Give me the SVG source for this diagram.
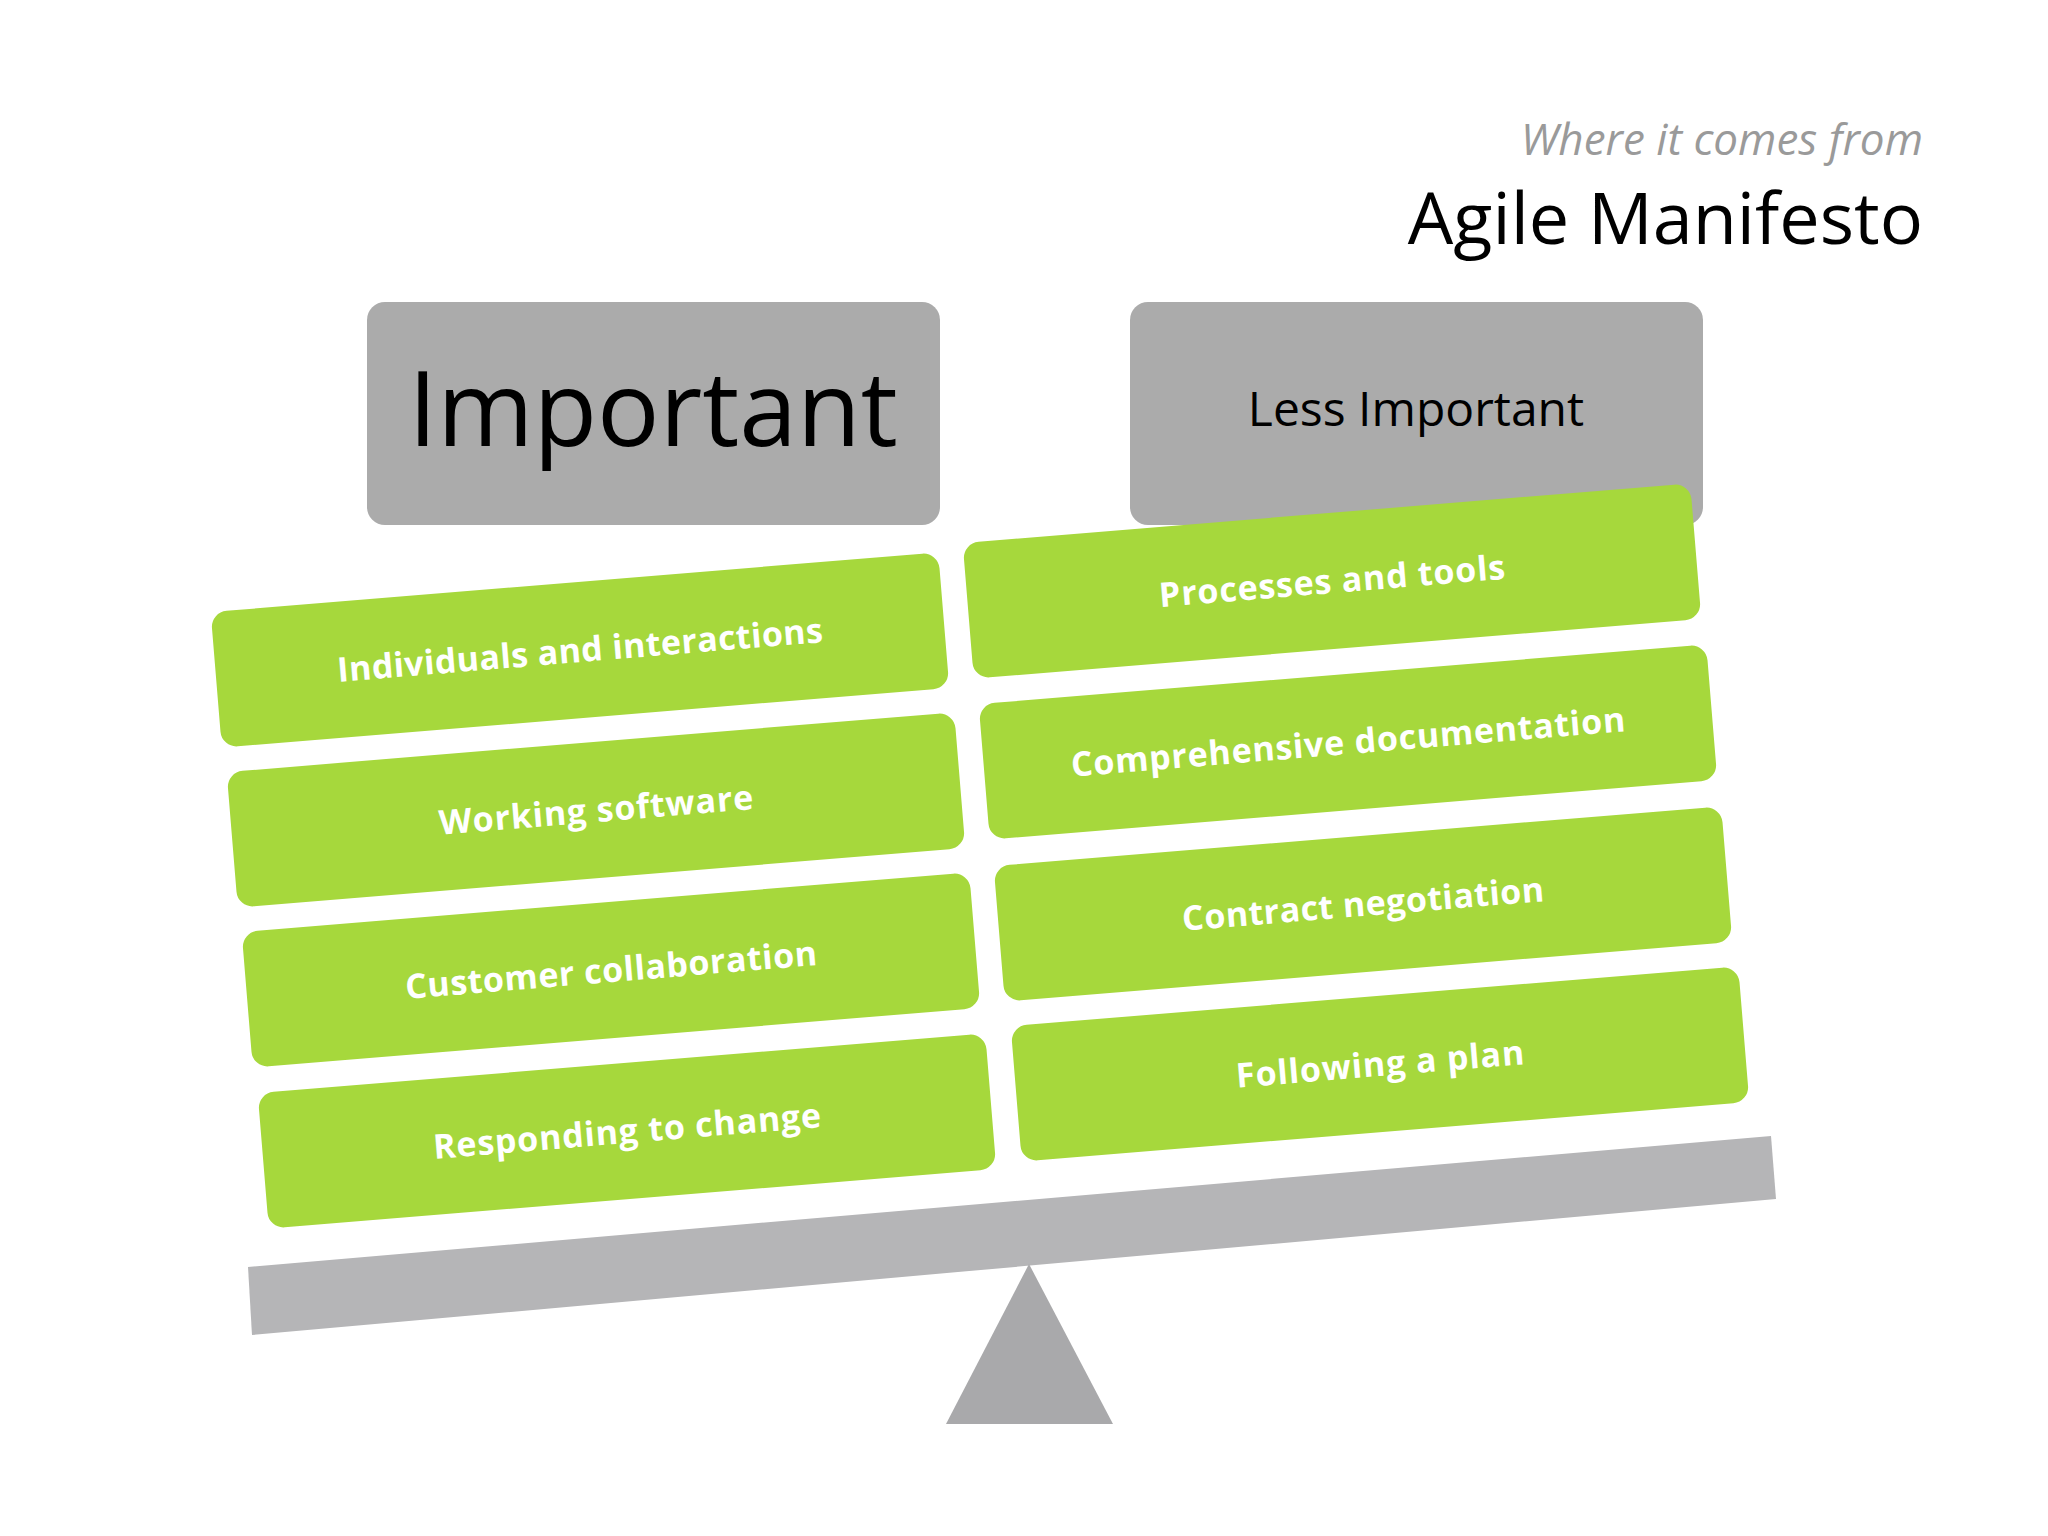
<svg xmlns="http://www.w3.org/2000/svg" width="2048" height="1536" viewBox="0 0 2048 1536">
<style>
.g{fill:#a6d83c}
.gt{fill:#fff;font-family:"Open Sans","DejaVu Sans",sans-serif;font-weight:700;font-size:34px;text-anchor:middle}
.hd{fill:#ababab}
.ht{fill:#000;font-family:"Open Sans","DejaVu Sans",sans-serif;text-anchor:middle}
</style>
<rect width="2048" height="1536" fill="#fff"/>
<text x="1923" y="155" font-family="Open Sans, DejaVu Sans, sans-serif" font-style="italic" font-size="44" fill="#9a9a9a" text-anchor="end">Where it comes from</text>
<text x="1923" y="244" font-family="Open Sans, DejaVu Sans, sans-serif" font-size="72" fill="#000" text-anchor="end">Agile Manifesto</text>
<g id="important"><rect class="hd" x="367" y="302" width="573" height="223" rx="18"/><text class="ht" x="653" y="446" font-size="104">Important</text></g>
<g id="less-important"><rect class="hd" x="1130" y="302" width="573" height="223" rx="18"/><text class="ht" x="1416" y="426" font-size="48">Less Important</text></g>
<g id="beam"><polygon points="248,1267 1771,1136 1776,1199 252,1335" fill="#b5b5b7"/></g>
<g id="fulcrum"><polygon points="1029,1264 946,1424 1113,1424" fill="#a9a9ab"/></g>
<g id="l1" transform="translate(580,650) rotate(-4.7)"><rect class="g" x="-365" y="-68" width="730" height="136" rx="16"/><text class="gt" x="0" y="12" textLength="487">Individuals and interactions</text></g>
<g id="l2" transform="translate(596,810) rotate(-4.7)"><rect class="g" x="-365" y="-68" width="730" height="136" rx="16"/><text class="gt" x="0" y="12" textLength="315">Working software</text></g>
<g id="l3" transform="translate(611,970) rotate(-4.7)"><rect class="g" x="-365" y="-68" width="730" height="136" rx="16"/><text class="gt" x="0" y="12" textLength="413">Customer collaboration</text></g>
<g id="l4" transform="translate(627,1131) rotate(-4.7)"><rect class="g" x="-365" y="-68" width="730" height="136" rx="16"/><text class="gt" x="0" y="12" textLength="389">Responding to change</text></g>
<g id="r1" transform="translate(1332,581) rotate(-4.7)"><rect class="g" x="-365" y="-68" width="730" height="136" rx="16"/><text class="gt" x="0" y="12" textLength="347">Processes and tools</text></g>
<g id="r2" transform="translate(1348,742) rotate(-4.7)"><rect class="g" x="-365" y="-68" width="730" height="136" rx="16"/><text class="gt" x="0" y="12" textLength="556">Comprehensive documentation</text></g>
<g id="r3" transform="translate(1363,904) rotate(-4.7)"><rect class="g" x="-365" y="-68" width="730" height="136" rx="16"/><text class="gt" x="0" y="12" textLength="363">Contract negotiation</text></g>
<g id="r4" transform="translate(1380,1064) rotate(-4.7)"><rect class="g" x="-365" y="-68" width="730" height="136" rx="16"/><text class="gt" x="0" y="12" textLength="289">Following a plan</text></g>
<g id="connectors"/>
</svg>
